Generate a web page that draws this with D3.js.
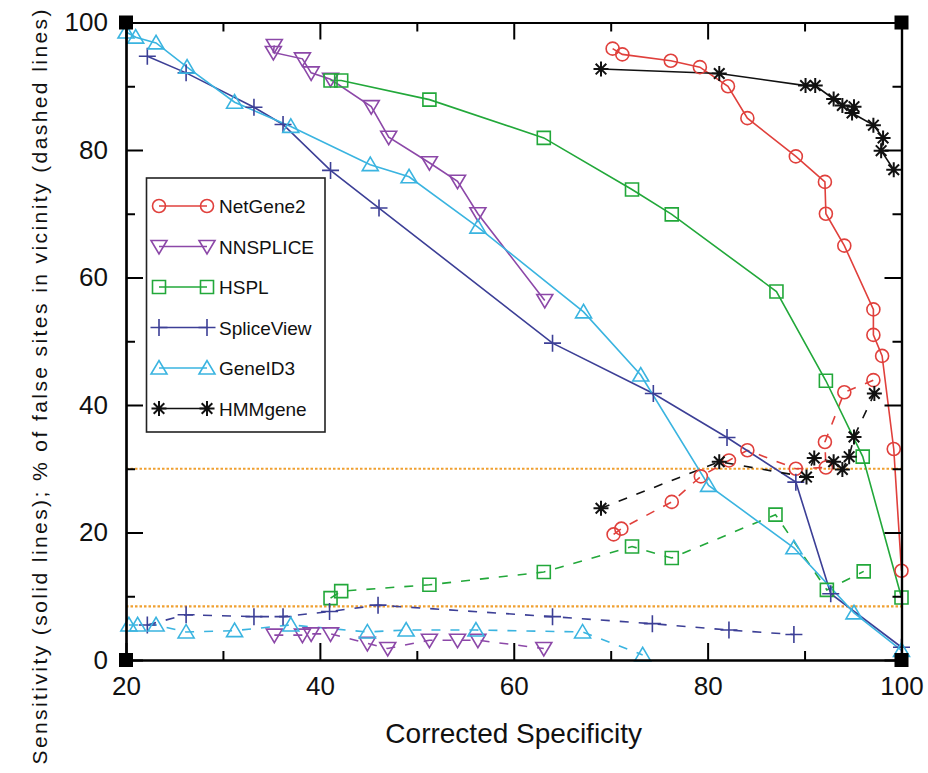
<!DOCTYPE html>
<html>
<head>
<meta charset="utf-8">
<script src="https://cdn.jsdelivr.net/npm/d3@7"></script>
<style>
  html, body { margin: 0; padding: 0; background: #fff; }
  svg { display: block; font-family: "Liberation Sans", Arial, sans-serif; }
</style>
</head>
<body>
<svg id="chart" width="928" height="773"></svg>
<script>
// ---------------- DATA ----------------
const xTicksMajor = [20, 40, 60, 80, 100];
const xTicksMinor = [30, 50, 70, 90];
const yTicksMajor = [0, 20, 40, 60, 80, 100];
const yTicksMinor = [10, 30, 50, 70, 90];

const seriesNames = ["NetGene2", "NNSPLICE", "HSPL", "SpliceView", "GeneID3", "HMMgene"];

// [corrected specificity, sensitivity]
const netgene2Solid = [[70.2,95.9],[71.2,95],[76.2,94],[79.2,93],[82.1,90],[84.1,85],[89.1,79],[92.1,75],[92.2,70],[94.1,65],[97.1,55],[97.1,51],[98,47.7],[99.2,33.1],[100,14]];
// [corrected specificity, % false sites in vicinity]
const netgene2Dashed = [[70.3,19.7],[71.1,20.6],[76.3,24.8],[79.3,28.8],[82.2,31.3],[84.1,32.9],[89.1,30],[92.2,30.2],[92.1,34.2],[94.1,42],[97.1,43.9]];

const nnspliceSolid = [[35.3,96.4],[35.2,95.3],[38.2,94.3],[39.1,92.1],[41.1,91.1],[45.3,86.8],[47.1,82],[51.3,78],[54.2,75.1],[56.3,70],[63.2,56.4]];
const nnspliceDashed = [[35.3,3.9],[38.2,3.9],[39.1,4.1],[41.1,4.1],[44.9,2.6],[47,1.8],[51.3,3.1],[54.2,3.1],[56.3,3.1],[63.1,1.8]];

const hsplSolid = [[41.1,90.9],[42.2,90.9],[51.3,87.9],[63.1,81.9],[72.2,73.8],[76.3,69.9],[87.1,57.8],[92.2,43.8],[96,31.9],[100,9.8]];
const hsplDashed = [[41.1,9.7],[42.2,10.8],[51.3,11.8],[63.1,13.8],[72.2,17.8],[76.3,16],[87,22.8],[92.3,11],[96.1,13.9]];

const spliceviewSolid = [[22.2,94.7],[26.2,92.1],[33.2,86.7],[36.2,84],[41.1,76.8],[46.1,70.9],[64,49.7],[74.4,41.8],[82,34.9],[89.1,27.9],[92.7,10.4],[100,2]];
const spliceviewDashed = [[22.2,5.5],[26.2,7.1],[33.2,6.8],[36.2,6.8],[41,7.6],[46,8.6],[64,6.8],[74.3,5.7],[82.2,4.7],[88.9,4]];

const geneid3Solid = [[20,98.5],[21,97.7],[23.1,96.8],[26.3,93],[31.2,87.5],[37,83.7],[45.2,77.7],[49.2,75.8],[56.3,67.9],[67.2,54.6],[73.1,44.7],[80.1,27.4],[88.9,17.6],[95.1,7.4],[100,1.5]];
const geneid3Dashed = [[20.3,5.5],[21.2,5.5],[23.1,5.5],[26.2,4.4],[31.2,4.6],[37,5.5],[44.9,4.4],[48.9,4.7],[56.1,4.7],[67.1,4.4],[73.3,0.8]];

const hmmgeneSolid = [[69,92.7],[81.2,92],[90.1,90.1],[91.1,90.1],[93,88],[93.9,87],[95.1,86.8],[94.9,85.8],[97.1,83.9],[98.1,81.9],[97.9,79.9],[99.2,76.9]];
const hmmgeneDashed = [[69,23.8],[81.2,31.1],[90.2,28.7],[91,31.7],[93,31.1],[93.9,29.9],[94.6,31.9],[95.1,35],[97.2,41.8]];

const referenceLevels = [30, 8.4];
const cornerPoints = [[20,0],[20,100],[100,0],[100,100]];

const xTitle = "Corrected Specificity";
const yTitle = "Sensitivity (solid lines); % of false sites in vicinity (dashed lines)";

// ---------------- STYLE ----------------
const colors = ["#e0403c", "#8c48a8", "#22a83a", "#3c3f96", "#3ab4e0", "#111111"];
const symbols = ["circle", "triDown", "square", "plus", "triUp", "star"];
const solids = [netgene2Solid, nnspliceSolid, hsplSolid, spliceviewSolid, geneid3Solid, hmmgeneSolid];
const dashes = [netgene2Dashed, nnspliceDashed, hsplDashed, spliceviewDashed, geneid3Dashed, hmmgeneDashed];

const series = seriesNames.map((name, i) => ({
  name, color: colors[i], symbol: symbols[i], solid: solids[i], dashed: dashes[i]
}));

const margin = {left: 126, right: 928 - 901.5, top: 22.5, bottom: 773 - 660};
const W = 928, H = 773;

const svg = d3.select("#chart");
const x = d3.scaleLinear().domain([20, 100]).range([margin.left, W - margin.right]);
const y = d3.scaleLinear().domain([0, 100]).range([H - margin.bottom, margin.top]);

function markerPath(type) {
  switch (type) {
    case "circle": return "M6.5,0A6.5,6.5 0 1,1 -6.5,0A6.5,6.5 0 1,1 6.5,0Z";
    case "triDown": return "M-8,-6L8,-6L0,7.5Z";
    case "triUp": return "M-8,6L8,6L0,-7.5Z";
    case "square": return "M-6.5,-6.5H6.5V6.5H-6.5Z";
    case "plus": return "M-8.5,0H8.5M0,-8.5V8.5";
    case "star": {
      const r = 7.5, d = r * Math.SQRT1_2;
      return `M${-r},0H${r}M0,${-r}V${r}M${-d},${-d}L${d},${d}M${-d},${d}L${d},${-d}`;
    }
  }
}

// ---------------- REFERENCE LINES ----------------
svg.append("g").selectAll("line").data(referenceLevels).join("line")
  .attr("x1", x(20)).attr("x2", x(100))
  .attr("y1", d => y(d)).attr("y2", d => y(d))
  .attr("stroke", "#f0a030").attr("stroke-width", 2.2)
  .attr("stroke-dasharray", "2.5,2");

// ---------------- SERIES ----------------
const line = d3.line().x(d => x(d[0])).y(d => y(d[1]));
const gS = svg.append("g");
series.forEach(s => {
  gS.append("path").attr("d", line(s.dashed))
    .attr("fill", "none").attr("stroke", s.color).attr("stroke-width", 1.6)
    .attr("stroke-dasharray", "9,10");
  gS.append("path").attr("d", line(s.solid))
    .attr("fill", "none").attr("stroke", s.color).attr("stroke-width", 1.6);
});
series.forEach(s => {
  const pts = s.solid.concat(s.dashed);
  gS.append("g").selectAll("path").data(pts).join("path")
    .attr("transform", d => `translate(${x(d[0])},${y(d[1])})`)
    .attr("d", markerPath(s.symbol))
    .attr("fill", "none").attr("stroke", s.color)
    .attr("stroke-width", s.symbol === "star" ? 2 : 1.6);
});

// ---------------- AXES ----------------
function styleAxis(g) {
  g.select(".domain").attr("stroke", "#000").attr("stroke-width", 2.2);
  g.selectAll(".tick line").attr("stroke", "#000").attr("stroke-width", 2);
  g.selectAll(".tick text").attr("fill", "#111")
    .style("font-family", '"Liberation Sans", Arial, sans-serif').style("font-size", "26px");
}
const bottomY = y(0), topY = y(100), leftX = x(20), rightX = x(100);

svg.append("g").attr("transform", `translate(0,${bottomY})`)
  .call(d3.axisBottom(x).tickValues(xTicksMajor).tickSizeInner(-17).tickSizeOuter(0).tickPadding(17).tickFormat(d3.format("d")))
  .call(styleAxis);
svg.append("g").attr("transform", `translate(0,${bottomY})`)
  .call(d3.axisBottom(x).tickValues(xTicksMinor).tickSizeInner(-9).tickSizeOuter(0).tickFormat(""))
  .call(styleAxis);
svg.append("g").attr("transform", `translate(0,${topY})`)
  .call(d3.axisTop(x).tickValues(xTicksMajor).tickSizeInner(-17).tickSizeOuter(0).tickFormat(""))
  .call(styleAxis);
svg.append("g").attr("transform", `translate(0,${topY})`)
  .call(d3.axisTop(x).tickValues(xTicksMinor).tickSizeInner(-9).tickSizeOuter(0).tickFormat(""))
  .call(styleAxis);
svg.append("g").attr("transform", `translate(${leftX},0)`)
  .call(d3.axisLeft(y).tickValues(yTicksMajor).tickSizeInner(-17).tickSizeOuter(0).tickPadding(18).tickFormat(d3.format("d")))
  .call(styleAxis);
svg.append("g").attr("transform", `translate(${leftX},0)`)
  .call(d3.axisLeft(y).tickValues(yTicksMinor).tickSizeInner(-9).tickSizeOuter(0).tickFormat(""))
  .call(styleAxis);
svg.append("g").attr("transform", `translate(${rightX},0)`)
  .call(d3.axisRight(y).tickValues(yTicksMajor).tickSizeInner(-17).tickSizeOuter(0).tickFormat(""))
  .call(styleAxis);
svg.append("g").attr("transform", `translate(${rightX},0)`)
  .call(d3.axisRight(y).tickValues(yTicksMinor).tickSizeInner(-9).tickSizeOuter(0).tickFormat(""))
  .call(styleAxis);

// corner markers
svg.append("g").selectAll("rect").data(cornerPoints).join("rect")
  .attr("x", d => x(d[0]) - 7).attr("y", d => y(d[1]) - 7)
  .attr("width", 14).attr("height", 14).attr("fill", "#000");

// ---------------- TITLES ----------------
svg.append("text").attr("x", (leftX + rightX) / 2).attr("y", 743)
  .attr("text-anchor", "middle").attr("fill", "#111")
  .style("font-size", "28px").text(xTitle);

svg.append("text").attr("transform", "translate(47,387) rotate(-90)")
  .attr("text-anchor", "middle").attr("fill", "#111")
  .attr("textLength", 755).attr("lengthAdjust", "spacing")
  .style("font-size", "21px").text(yTitle);

// ---------------- LEGEND ----------------
const lg = svg.append("g");
lg.append("rect").attr("x", 146.5).attr("y", 178).attr("width", 178.5).attr("height", 254)
  .attr("fill", "#fff").attr("stroke", "#222").attr("stroke-width", 1.6);
series.forEach((s, i) => {
  const cy = 206 + i * 40.5;
  const g = lg.append("g").attr("transform", `translate(0,${cy})`);
  g.append("line").attr("x1", 159).attr("x2", 207).attr("y1", 0).attr("y2", 0)
    .attr("stroke", s.color).attr("stroke-width", 1.6);
  [159, 207].forEach(px => {
    g.append("path").attr("transform", `translate(${px},0)`).attr("d", markerPath(s.symbol))
      .attr("fill", "none").attr("stroke", s.color)
      .attr("stroke-width", s.symbol === "star" ? 2 : 1.6);
  });
  g.append("text").attr("x", 219).attr("y", 7).attr("fill", "#111")
    .style("font-size", "19px").text(s.name);
});
</script>
</body>
</html>
